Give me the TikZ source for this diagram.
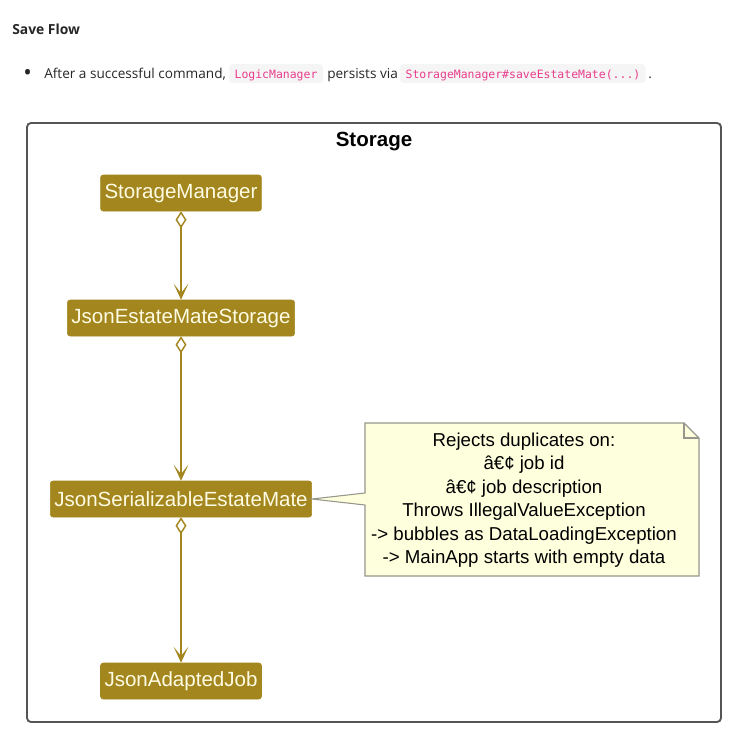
\documentclass[tikz,border=0pt]{standalone}
\usepackage{fontspec}
\setmainfont{Liberation Sans}
\newfontfamily\pagefont{Open Sans}
\newfontfamily\codefont{DejaVu Sans Mono}
\usetikzlibrary{arrows.meta}

\definecolor{classgold}{RGB}{163,134,30}
\definecolor{classtext}{RGB}{255,252,228}
\definecolor{notefill}{RGB}{254,255,221}
\definecolor{notedraw}{RGB}{150,150,140}
\definecolor{codepink}{RGB}{232,62,140}
\definecolor{codebg}{RGB}{245,245,245}
\definecolor{framegray}{RGB}{85,85,85}

\tikzset{
  classbox/.style={fill=classgold, draw=classgold, rounded corners=2pt, text=classtext,
    font=\fontsize{15.4}{18}\selectfont, minimum height=27pt, inner xsep=3pt, inner ysep=0pt},
  compose/.style={draw=classgold, line width=1.1pt,
    {Diamond[open,length=12.75pt,width=8.25pt,fill=white]}-{Stealth[length=12pt,width=11pt,inset=7pt]}},
  codebox/.style={fill=codebg, rounded corners=2.5pt, text=codepink, font=\codefont\fontsize{8.6}{10}\selectfont,
    inner xsep=4pt, inner ysep=0pt, text height=10.5pt, text depth=3.75pt, anchor=base west},
  pagetext/.style={font=\pagefont\fontsize{10.2}{12}\selectfont, text=black!85, inner sep=0pt, anchor=base west},
  notetext/.style={font=\fontsize{14}{17.6}\selectfont, align=center, inner sep=0pt}
}

\begin{document}
\begin{tikzpicture}[x=0.75pt,y=0.75pt,yscale=-1,xscale=1]
\useasboundingbox (0,0) rectangle (742,736);

% Text Node
\node[pagetext, font=\pagefont\bfseries\fontsize{10.4}{12}\selectfont] (saveflow) at (12,34) {Save Flow};
% Text Node
\node[pagetext, font=\pagefont\fontsize{17}{12}\selectfont] (bullet) at (23,80) {•};
\node[pagetext] (after) at (44,78) {After a successful command,};
\node[codebox] (logicmgr) at (229,78) {LogicManager};
\node[pagetext] (persists) at (327,78) {persists via};
\node[codebox] (savecall) at (400,78) {StorageManager\#saveEstateMate(...)};
\node[pagetext] (dot) at (648,78) {.};

%Shape: Rectangle [frame]
\draw[framegray, line width=1.4pt, rounded corners=3pt] (27,123) rectangle (721,722);
% Text Node
\node[font=\bfseries\fontsize{15.4}{18}\selectfont, anchor=base] (storage) at (374,146) {Storage};

% Class Nodes
\node[classbox] (sm) at (181,193) {StorageManager};
\node[classbox] (jems) at (181,318) {JsonEstateMateStorage};
\node[classbox] (jsem) at (181,499) {JsonSerializableEstateMate};
\node[classbox] (jaj) at (181,681) {JsonAdaptedJob};

% Links
\draw[compose] (sm) -- (jems);
\draw[compose] (jems) -- (jsem);
\draw[compose] (jsem) -- (jaj);

%Shape: Note
\filldraw[fill=notefill, draw=notedraw, line width=0.8pt] (365,423) -- (684,423) -- (699,438) -- (699,576) -- (365,576) -- (365,505) -- (jsem.east) -- (365,493) -- cycle;
\draw[notedraw, line width=0.8pt] (684,423) -- (684,438) -- (699,438);
% Text Node
\node[notetext] (rejects) at (524,500) {Rejects duplicates on:\\â€¢ job id\\â€¢ job description\\Throws IllegalValueException\\-> bubbles as DataLoadingException\\-> MainApp starts with empty data};

\end{tikzpicture}
\end{document}
